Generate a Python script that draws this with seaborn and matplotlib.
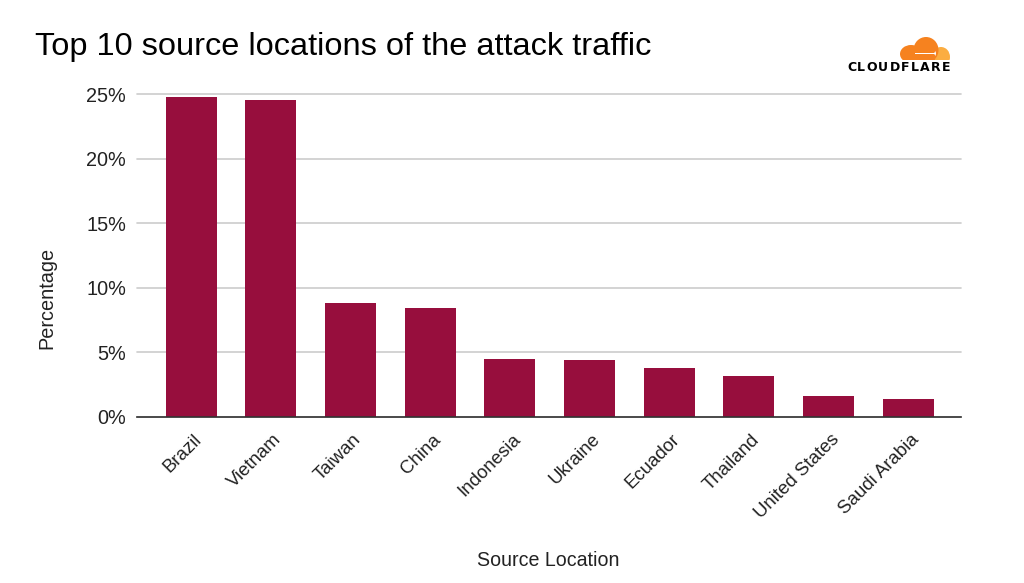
import matplotlib
matplotlib.use('Agg')
import matplotlib.pyplot as plt
import matplotlib.transforms as mtrans
import pandas as pd
import seaborn as sns
from matplotlib.patches import Ellipse, Polygon, Rectangle

# Dados
paises = ['Brazil', 'Vietnam', 'Taiwan', 'China', 'Indonesia', 'Ukraine',
          'Ecuador', 'Thailand', 'United States', 'Saudi Arabia']
valores = [24.8, 24.55, 8.8, 8.45, 4.5, 4.45, 3.8, 3.2, 1.65, 1.4]
yticks = [0, 5, 10, 15, 20, 25]

df = pd.DataFrame({'pais': paises, 'valor': valores})

sns.set_style('white')
plt.rcParams['font.family'] = ['Liberation Sans', 'DejaVu Sans']

fig = plt.figure(figsize=(10.24, 5.83), dpi=100)
ax = fig.add_axes([137 / 1024, 1 - 417 / 583, (961 - 137) / 1024, (417 - 94) / 583])

sns.barplot(data=df, x='pais', y='valor', color='#970E3D', saturation=1, width=0.64, linewidth=0, ax=ax)

ax.set_xlim(-0.678, 9.665)
ax.set_ylim(0, 25)
ax.set_yticks(yticks)
ax.set_yticklabels([f'{v}%' for v in yticks], fontsize=14.3, color='#222222')
ax.set_xticks(range(len(paises)))
ax.set_xticklabels(paises, rotation=45, ha='right', rotation_mode='anchor', fontsize=13.4, color='#222222')
ax.tick_params(axis='y', length=0, pad=8)
ax.tick_params(axis='x', length=0, pad=10)
# desloca os rótulos um pouco para a direita
desloc = mtrans.ScaledTranslation(2 / 100, 0, fig.dpi_scale_trans)
for rotulo in ax.get_xticklabels():
    rotulo.set_transform(rotulo.get_transform() + desloc)
ax.grid(axis='y', color='#CCCCCC', linewidth=1.2)
ax.set_axisbelow(True)
for lado in ['top', 'left', 'right']:
    ax.spines[lado].set_visible(False)
ax.spines['bottom'].set_color('#333333')
ax.spines['bottom'].set_linewidth(1.2)
# a linha de 25% fica no limite do eixo
for linha in ax.get_ygridlines():
    linha.set_clip_on(False)

ax.set_xlabel('')
ax.set_ylabel('')
fig.text(548 / 1024, 1 - 561 / 583, 'Source Location', fontsize=14.1, ha='center', va='center', color='#222222')
fig.text(47 / 1024, 1 - 298 / 583, 'Percentage', fontsize=14.3, rotation=90, ha='center', va='center', color='#222222')
fig.text(35 / 1024, 1 - 47 / 583, 'Top 10 source locations of the attack traffic', fontsize=23.4,
         ha='left', va='center', color='black')

# Logo: nuvem
logo = fig.add_axes([900 / 1024, 1 - 59.5 / 583, 50 / 1024, 22.5 / 583])
logo.set_xlim(900, 950)
logo.set_ylim(59.5, 37)
logo.axis('off')
logo.add_patch(Ellipse((941, 57), 18, 20, color='#FBAD41', lw=0))
logo.add_patch(Ellipse((926, 50), 25, 26, color='#F6821F', lw=0))
logo.add_patch(Ellipse((911, 54), 22, 18, color='#F6821F', lw=0))
logo.add_patch(Rectangle((905, 52), 30, 8, color='#F6821F', lw=0))
logo.add_patch(Rectangle((915, 53), 21, 0.8, color='white', lw=0))
logo.add_patch(Polygon([(936, 53.4), (935.4, 51), (934, 53.4), (935.4, 56)], color='white', lw=0))

# Logo: letras espaçadas
renderer = fig.canvas.get_renderer()
letras = []
for letra in 'CLOUDFLARE':
    letras.append(fig.text(0, 1 - 67.5 / 583, letra, fontsize=9, fontweight='bold', ha='left', va='center',
                           color='black', family='DejaVu Sans'))
larguras = [t.get_window_extent(renderer).width for t in letras]
espaco = (103 - sum(larguras)) / (len(letras) - 1)
x_atual = 847
for t, larg in zip(letras, larguras):
    t.set_x(x_atual / 1024)
    x_atual += larg + espaco

fig.savefig('out.png', dpi=100)
